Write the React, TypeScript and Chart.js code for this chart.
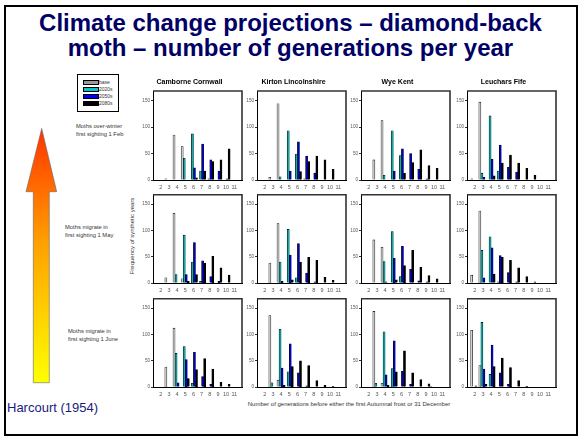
import React, { useEffect, useRef } from "react";
import { Chart, registerables } from "chart.js";
Chart.register(...registerables);

const generations = ["2", "3", "4", "5", "6", "7", "8", "9", "10", "11"];
const seriesNames = ["base", "2020s", "2050s", "2080s"];
const seriesColors = ["#d4d4d4", "#00b4b4", "#0000d8", "#000000"];
const legendColors = ["#999999", "#00c8c8", "#0000ff", "#000000"];
const sites = ["Camborne Cornwall", "Kirton Lincolnshire", "Wye Kent", "Leuchars Fife"];
const scenarioLines = [
  ["Moths over-winter", "first sighting 1 Feb"],
  ["Moths migrate in", "first sighting 1 May"],
  ["Moths migrate in", "first sighting 1 June"],
];
const yTickValues = [0, 50, 100, 150];
const yMax = 168;

// each panel: [base, 2020s, 2050s, 2080s], frequency per number of generations 2..11
const camborneFeb = [
  [0, 2, 85, 63, 0, 0, 0, 0, 0, 0],
  [0, 0, 0, 41, 87, 17, 2, 0, 0, 0],
  [0, 0, 0, 0, 23, 68, 38, 17, 2, 0],
  [0, 0, 0, 0, 4, 17, 35, 38, 59, 0],
];
const kirtonFeb = [
  [0, 5, 144, 0, 0, 0, 0, 0, 0, 0],
  [0, 0, 6, 93, 49, 2, 0, 0, 0, 0],
  [0, 0, 0, 17, 72, 45, 13, 0, 0, 0],
  [0, 0, 0, 0, 16, 35, 45, 38, 20, 0],
];
const wyeFeb = [
  [0, 38, 112, 0, 0, 0, 0, 0, 0, 0],
  [0, 0, 9, 93, 46, 0, 0, 0, 0, 0],
  [0, 0, 0, 17, 59, 50, 20, 2, 0, 0],
  [0, 0, 0, 0, 13, 33, 57, 27, 22, 0],
];
const leucharsFeb = [
  [2, 147, 0, 0, 0, 0, 0, 0, 0, 0],
  [0, 13, 121, 17, 0, 0, 0, 0, 0, 0],
  [0, 5, 39, 66, 24, 15, 0, 0, 0, 0],
  [0, 0, 8, 32, 47, 32, 22, 9, 0, 0],
];
const camborneMay = [
  [0, 10, 133, 8, 0, 0, 0, 0, 0, 0],
  [0, 0, 16, 91, 40, 3, 0, 0, 0, 0],
  [0, 0, 0, 16, 77, 42, 12, 3, 0, 0],
  [0, 0, 0, 3, 16, 38, 51, 29, 15, 0],
];
const kirtonMay = [
  [0, 38, 113, 0, 0, 0, 0, 0, 0, 0],
  [0, 0, 40, 102, 10, 0, 0, 0, 0, 0],
  [0, 0, 3, 53, 75, 19, 2, 0, 0, 0],
  [0, 0, 0, 6, 40, 49, 43, 11, 5, 0],
];
const wyeMay = [
  [0, 82, 68, 0, 0, 0, 0, 0, 0, 0],
  [0, 0, 41, 98, 12, 0, 0, 0, 0, 0],
  [0, 0, 2, 47, 70, 26, 4, 2, 0, 0],
  [0, 0, 0, 6, 33, 62, 30, 14, 8, 0],
];
const leucharsMay = [
  [15, 137, 0, 0, 0, 0, 0, 0, 0, 0],
  [0, 62, 88, 2, 0, 0, 0, 0, 0, 0],
  [0, 10, 67, 52, 20, 2, 0, 0, 0, 0],
  [0, 0, 17, 49, 43, 29, 12, 2, 0, 0],
];
const camborneJune = [
  [0, 38, 112, 0, 0, 0, 0, 0, 0, 0],
  [0, 0, 64, 77, 7, 0, 0, 0, 0, 0],
  [0, 0, 8, 52, 66, 20, 5, 0, 0, 0],
  [0, 0, 0, 16, 33, 54, 34, 9, 5, 0],
];
const kirtonJune = [
  [0, 136, 13, 0, 0, 0, 0, 0, 0, 0],
  [0, 8, 110, 29, 0, 0, 0, 0, 0, 0],
  [0, 0, 36, 82, 27, 2, 0, 0, 0, 0],
  [0, 0, 3, 39, 50, 41, 12, 3, 1, 0],
];
const wyeJune = [
  [0, 144, 7, 0, 0, 0, 0, 0, 1, 0],
  [0, 7, 105, 35, 0, 0, 0, 0, 0, 0],
  [0, 0, 23, 88, 30, 5, 0, 0, 0, 0],
  [0, 0, 3, 29, 69, 27, 14, 6, 0, 0],
];
const leucharsJune = [
  [108, 41, 0, 0, 0, 0, 0, 0, 0, 0],
  [0, 123, 24, 0, 0, 0, 0, 0, 0, 0],
  [2, 34, 80, 27, 5, 0, 0, 0, 0, 0],
  [0, 5, 39, 55, 37, 12, 1, 0, 0, 0],
];

const panelRows = [
  [camborneFeb, kirtonFeb, wyeFeb, leucharsFeb],
  [camborneMay, kirtonMay, wyeMay, leucharsMay],
  [camborneJune, kirtonJune, wyeJune, leucharsJune],
];

// layout
const colLeft = [153, 257, 361, 467];
const rowTop = [91, 194, 298];
const PW = 89;
const PH = 89;
const YW = 16;
const XH = 14;
const TITLE_H = 14;
const TOP_PAD = 3;
const FONT = '"Liberation Sans", Arial, Helvetica, sans-serif';

const framePlugin = {
  id: "frame",
  afterDraw(chart: any) {
    const { ctx, chartArea: a } = chart;
    ctx.save();
    ctx.strokeStyle = "#333";
    ctx.lineWidth = 1.6;
    ctx.beginPath();
    ctx.moveTo(a.left, a.top);
    ctx.lineTo(a.right, a.top);
    ctx.lineTo(a.right, a.bottom);
    ctx.stroke();
    ctx.restore();
  },
};

function Panel({ data, title, left, top }: { data: number[][]; title?: string; left: number; top: number }) {
  const ref = useRef<HTMLCanvasElement>(null);
  const hasTitle = !!title;
  const w = YW + PW + YW;
  const h = (hasTitle ? TITLE_H : TOP_PAD) + PH + XH;
  useEffect(() => {
    const chart = new Chart(ref.current!, {
      type: "bar",
      data: {
        labels: generations,
        datasets: data.map((d, i) => ({
          label: seriesNames[i],
          data: d,
          backgroundColor: seriesColors[i],
          borderColor: "#000",
          borderWidth: 0.6,
          barPercentage: 1,
          categoryPercentage: 1,
        })),
      },
      options: {
        animation: false,
        responsive: false,
        maintainAspectRatio: false,
        devicePixelRatio: 1,
        layout: { padding: { top: hasTitle ? 0 : TOP_PAD, right: YW, left: 0, bottom: 0 } },
        plugins: {
          legend: { display: false },
          tooltip: { enabled: false },
          title: {
            display: hasTitle,
            text: title || "",
            color: "#000",
            font: { family: FONT, size: 7, weight: "bold" },
            padding: { top: 1, bottom: 4.6 },
          },
        },
        scales: {
          x: {
            grid: { display: false, drawTicks: false, tickLength: 0 },
            border: { display: true, color: "#000", width: 1 },
            ticks: { color: "#555", font: { family: FONT, size: 5.5 }, maxRotation: 0, minRotation: 0, autoSkip: false, padding: 4 },
            afterBuildTicks: (s: any) => {
              s._startValue = -0.95;
              s._valueRange = 10.9;
            },
            afterFit: (s: any) => {
              s.height = XH;
            },
          },
          y: {
            min: 0,
            max: yMax,
            afterBuildTicks: (s: any) => {
              s.ticks = yTickValues.map((v) => ({ value: v }));
            },
            grid: { display: true, drawOnChartArea: false, drawTicks: true, tickLength: 2, color: "#000", lineWidth: 0.8 },
            border: { display: true, color: "#000", width: 1 },
            ticks: { color: "#555", font: { family: FONT, size: 4.6 }, padding: 1 },
            afterFit: (s: any) => {
              s.width = YW;
            },
          },
        },
      },
      plugins: [framePlugin],
    });
    return () => chart.destroy();
  }, []);
  return (
    <canvas
      ref={ref}
      width={w}
      height={h}
      style={{ position: "absolute", left: left - YW, top: top - (hasTitle ? TITLE_H : TOP_PAD), width: w, height: h, display: "block" }}
    />
  );
}

const legendTop = [80, 87, 94, 101];

export default function App() {
  return (
    <div
      style={{
        position: "fixed",
        left: 0,
        top: 0,
        width: 581,
        height: 438,
        background: "#fff",
        overflow: "hidden",
        fontFamily: FONT,
      }}
    >
      <div style={{ position: "absolute", left: 4, top: 5, width: 574, height: 431, border: "2px solid #000", boxSizing: "border-box" }} />
      <div
        style={{
          position: "absolute",
          left: 0,
          top: 10,
          width: 581,
          textAlign: "center",
          color: "#000066",
          fontWeight: "bold",
          fontSize: 24,
          lineHeight: "25px",
          whiteSpace: "nowrap",
        }}
      >
        Climate change projections – diamond-back
        <br />
        moth – number of generations per year
      </div>

      {/* legend */}
      <div style={{ position: "absolute", left: 77, top: 74, width: 42, height: 38, border: "1px solid #000", boxSizing: "border-box", background: "#fff" }}>
        {seriesNames.map((n, i) => (
          <div key={n} style={{ position: "absolute", left: 5, top: legendTop[i] - 76, height: 6, width: 40 }}>
            <div
              style={{
                position: "absolute",
                left: 0,
                top: 1,
                width: 14,
                height: 3,
                background: legendColors[i],
                border: "0.6px solid #000",
              }}
            />
            <div style={{ position: "absolute", left: 16, top: 0, fontSize: 5, lineHeight: "6px", color: "#333" }}>{n}</div>
          </div>
        ))}
      </div>

      {/* arrow */}
      <svg width={581} height={438} style={{ position: "absolute", left: 0, top: 0 }}>
        <defs>
          <linearGradient id="arrowGrad" x1="0" y1="0" x2="0" y2="1">
            <stop offset="0" stopColor="#ff3300" />
            <stop offset="0.45" stopColor="#ffa000" />
            <stop offset="1" stopColor="#ffff00" />
          </linearGradient>
        </defs>
        <polygon
          points="41.7,128.5 56.7,191.7 49.3,191.7 49.3,382.7 33.3,382.7 33.3,191.7 26,191.7"
          fill="url(#arrowGrad)"
          stroke="#666"
          strokeWidth={0.6}
        />
      </svg>

      {scenarioLines.map((lines, r) => (
        <div
          key={r}
          style={{
            position: "absolute",
            left: [76, 65, 68][r],
            top: [123, 224, 328][r],
            fontSize: 5.8,
            lineHeight: "7.5px",
            color: "#333",
            whiteSpace: "nowrap",
          }}
        >
          {lines[0]}
          <br />
          {lines[1]}
        </div>
      ))}

      <div
        style={{
          position: "absolute",
          left: 131.7 - 60,
          top: 236 - 4,
          width: 120,
          height: 8,
          lineHeight: "8px",
          fontSize: 6,
          color: "#333",
          textAlign: "center",
          transform: "rotate(-90deg)",
          whiteSpace: "nowrap",
        }}
      >
        Frequency of synthetic years
      </div>

      <div
        style={{
          position: "absolute",
          left: 349 - 150,
          top: 400,
          width: 300,
          textAlign: "center",
          fontSize: 6,
          lineHeight: "8px",
          color: "#333",
          whiteSpace: "nowrap",
        }}
      >
        Number of generations before either the first Autumnal frost or 31 December
      </div>

      <div style={{ position: "absolute", left: 7, top: 400, fontSize: 13, lineHeight: "16px", color: "#1a1a80", whiteSpace: "nowrap" }}>
        Harcourt (1954)
      </div>

      {panelRows.map((row, r) =>
        row.map((data, c) => (
          <Panel key={`${r}-${c}`} data={data} title={r === 0 ? sites[c] : undefined} left={colLeft[c]} top={rowTop[r]} />
        ))
      )}
    </div>
  );
}
